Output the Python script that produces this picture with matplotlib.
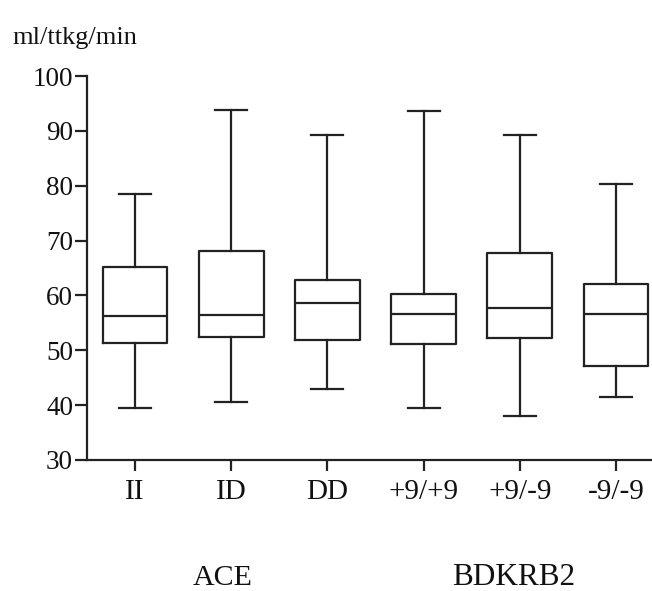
import matplotlib.pyplot as plt
from matplotlib import font_manager

# pick up Liberation Serif by file in case the name lookup misses it
serif = 'DejaVu Serif'
for f in font_manager.findSystemFonts():
	if 'LiberationSerif-Regular' in f:
		font_manager.fontManager.addfont(f)
		serif = font_manager.FontProperties(fname=f).get_name()
		break
plt.rcParams['font.family'] = [serif, 'DejaVu Serif']

# box statistics
groups = ['II', 'ID', 'DD', '+9/+9', '+9/-9', '-9/-9']
whislo = [39.5, 40.6, 42.9, 39.4, 38.1, 41.5]
q1 = [51.3, 52.4, 51.9, 51.15, 52.2, 47.1]
med = [56.25, 56.4, 58.6, 56.6, 57.7, 56.7]
q3 = [65.1, 68.1, 62.9, 60.2, 67.8, 62.1]
whishi = [78.4, 93.8, 89.2, 93.7, 89.2, 80.3]
genes = ['ACE', 'BDKRB2']
yticks = [30, 40, 50, 60, 70, 80, 90, 100]

stats = []
for i in range(len(groups)):
	stats.append({'label': groups[i], 'whislo': whislo[i], 'q1': q1[i], 'med': med[i],
				  'q3': q3[i], 'whishi': whishi[i], 'fliers': []})

fig = plt.figure(figsize=(6.52, 5.91), dpi=100)
ax = fig.add_axes([87/652, 1-460/591, (652-87)/652, (460-76)/591])

lc = '#222222'
lw = 1.6
ax.bxp(stats, positions=range(1, 7), widths=0.675, capwidths=0.333, showfliers=False,
	   boxprops=dict(color=lc, linewidth=lw),
	   medianprops=dict(color=lc, linewidth=lw),
	   whiskerprops=dict(color=lc, linewidth=lw),
	   capprops=dict(color=lc, linewidth=lw))

ax.set_xlim(0.501, 6.374)
ax.set_ylim(30, 100)
ax.set_yticks(yticks)
ax.set_xticks(range(1, 7))
ax.set_xticklabels(groups)

for s in ['top', 'right']:
	ax.spines[s].set_visible(False)
for s in ['left', 'bottom']:
	ax.spines[s].set_linewidth(lw)
	ax.spines[s].set_color(lc)

ax.tick_params(axis='y', length=8.5, width=lw, color=lc, labelsize=19.5, pad=1.5, labelcolor='#111111')
ax.tick_params(axis='x', length=8, width=lw, color=lc, labelsize=21, pad=5.5, labelcolor='#111111')

fig.text(12/652, 1-44/591, 'ml/ttkg/min', fontsize=19, va='baseline', ha='left', color='#111111')
fig.text(223/652, 6/591, genes[0], fontsize=21.5, va='baseline', ha='center', color='#111111')
fig.text(514/652, 6/591, genes[1], fontsize=22.5, va='baseline', ha='center', color='#111111')

fig.savefig('out.png', dpi=100)
